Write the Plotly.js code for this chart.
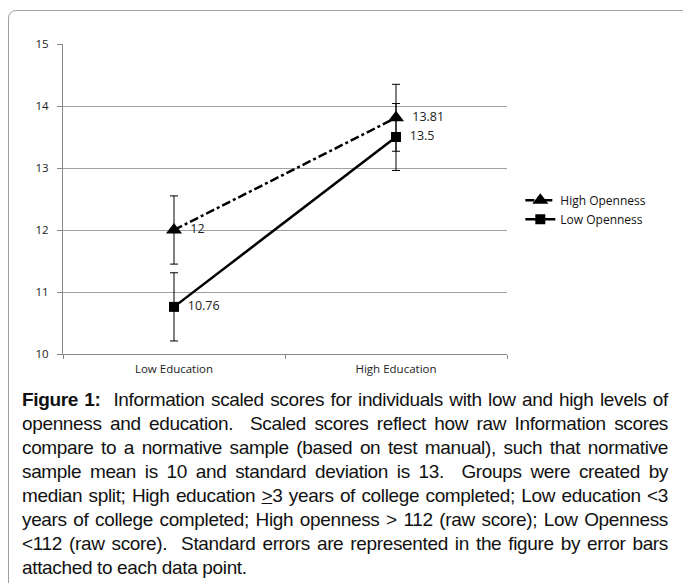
<!DOCTYPE html>
<html><head><meta charset="utf-8">
<script src="https://cdn.plot.ly/plotly-3.0.1.min.js"></script>
<style>
body{margin:0;padding:0;background:#fff;width:683px;height:583px;overflow:hidden;position:relative;font-family:"Liberation Sans",Arial,sans-serif;}
#frame{position:absolute;left:8px;top:10px;width:700px;height:600px;border:1px solid #a0a0a0;border-radius:8px;}
#chart{position:absolute;left:0;top:0;width:683px;height:380px;}
#cap{position:absolute;left:22px;top:388px;width:646px;font-size:19px;line-height:24px;color:#111;letter-spacing:-0.35px;}
#cap div{text-align:justify;text-align-last:justify;white-space:normal;height:24px;overflow:visible;}
#cap div.last{text-align-last:left;}
</style></head><body>
<div id="frame"></div>
<div id="chart"></div>
<div id="cap">
<div><b>Figure 1:</b>&nbsp; Information scaled scores for individuals with low and high levels of</div>
<div>openness and education.&nbsp; Scaled scores reflect how raw Information scores</div>
<div>compare to a normative sample (based on test manual), such that normative</div>
<div>sample mean is 10 and standard deviation is 13.&nbsp; Groups were created by</div>
<div>median split; High education <u>&gt;</u>3 years of college completed; Low education &lt;3</div>
<div>years of college completed; High openness &gt; 112 (raw score); Low Openness</div>
<div>&lt;112 (raw score).&nbsp; Standard errors are represented in the figure by error bars</div>
<div class="last">attached to each data point.</div>
</div>
<script>
const categories = ["Low Education", "High Education"];
const highOpenness = [12, 13.81];
const highOpennessErr = [0.55, 0.54];
const lowOpenness = [10.76, 13.5];
const lowOpennessErr = [0.55, 0.54];
const yTicks = [10, 11, 12, 13, 14, 15];

const tickFont = {family: "Open Sans, Lato, sans-serif", size: 11.5, color: "#222"};
const labelFont = {family: "Open Sans, sans-serif", size: 12.5, color: "#222"};
const traces = [
  {x: categories, y: highOpenness, name: "High Openness", type: "scatter", mode: "lines+markers+text",
   text: highOpenness.map(v => "  " + v), textposition: "middle right", textfont: labelFont,
   line: {color: "#000", width: 2.5, dash: "dashdot"}, marker: {symbol: "triangle-up", size: 14, color: "#000"},
   error_y: {type: "data", array: highOpennessErr, visible: true, color: "#000", thickness: 1, width: 4}},
  {x: categories, y: lowOpenness, name: "Low Openness", type: "scatter", mode: "lines+markers+text",
   text: lowOpenness.map(v => "  " + v), textposition: "middle right", textfont: labelFont,
   line: {color: "#000", width: 2.5}, marker: {symbol: "square", size: 10, color: "#000"},
   error_y: {type: "data", array: lowOpennessErr, visible: true, color: "#000", thickness: 1, width: 4}}
];
const layout = {
  width: 683, height: 380,
  margin: {l: 63, r: 176, t: 44, b: 26},
  paper_bgcolor: "rgba(0,0,0,0)", plot_bgcolor: "rgba(0,0,0,0)",
  showlegend: true,
  legend: {x: 1.03, y: 0.465, xanchor: "left", yanchor: "middle", font: {family: "Open Sans, sans-serif", size: 12, color: "#111"}, tracegroupgap: 6, itemwidth: 30},
  xaxis: {type: "category", range: [-0.5, 1.5], showgrid: false, showline: true, linecolor: "#888", linewidth: 1,
          ticks: "outside", tickson: "boundaries", ticklen: 4, tickcolor: "#888", ticklabelstandoff: 4,
          tickfont: tickFont, zeroline: false, fixedrange: true},
  yaxis: {range: [10, 15], tickvals: yTicks, ticktext: yTicks.map(String), showgrid: true, gridcolor: "#a0a0a0", gridwidth: 1,
          showline: true, linecolor: "#888", ticks: "outside", ticklen: 5, tickcolor: "#888", tickfont: tickFont,
          ticklabelstandoff: 6, zeroline: false, fixedrange: true}
};
Plotly.newPlot("chart", traces, layout, {displayModeBar: false, staticPlot: true});
</script>
</body></html>
